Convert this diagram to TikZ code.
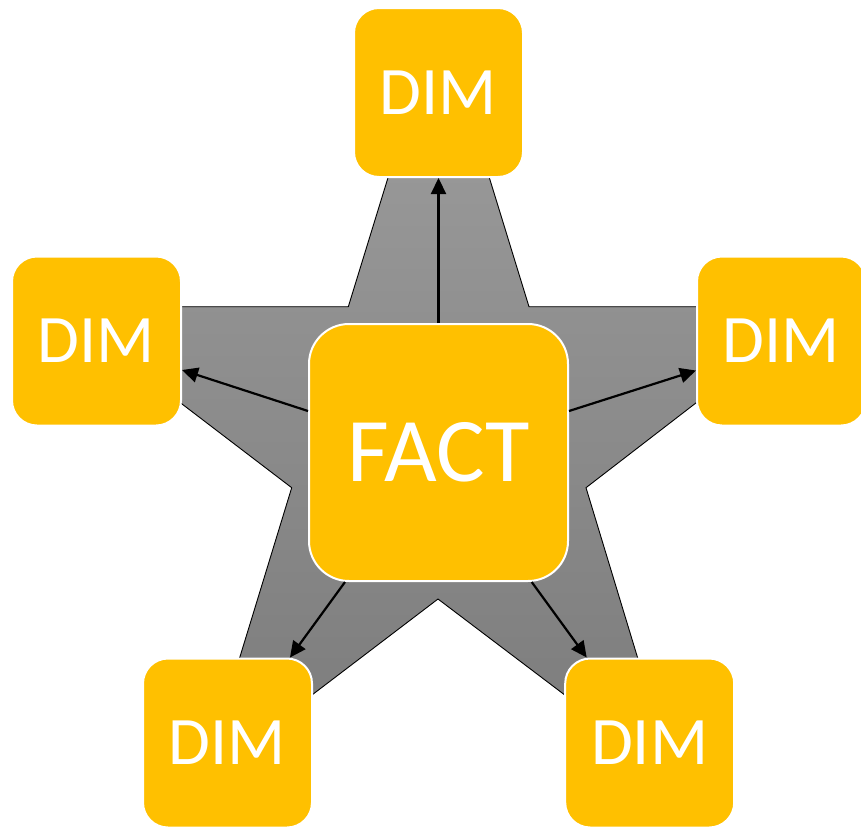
\documentclass[tikz,border=0pt]{standalone}
\usepackage{fontspec}
\setmainfont{Carlito}
\usetikzlibrary{arrows.meta,calc}
\definecolor{boxamber}{RGB}{255,192,0}
\definecolor{startop}{RGB}{152,152,152}
\definecolor{starbot}{RGB}{126,126,126}
\tikzset{
  tablebox/.style={draw=white, line width=2pt, fill=boxamber, rounded corners=25pt,
    minimum width=169pt, minimum height=169pt, inner sep=0pt,
    text=white, font=\fontsize{68}{68}\selectfont},
  factbox/.style={tablebox, rounded corners=40pt, minimum width=259pt,
    minimum height=257pt, font=\fontsize{91}{91}\selectfont},
  link/.style={line width=2.2pt, -{Triangle[length=16pt,width=15pt]}},
}
\begin{document}
\begin{tikzpicture}[x=1pt,y=-1pt]
  \useasboundingbox (0,0) rectangle (861,830);
  \clip (0,0) rectangle (861,830);
  % star behind the tables; spike tips end under the boxes
  \draw[black, line width=0.9pt, top color=startop, bottom color=starbot]
    (348.3,306.7) -- (396.5,150) -- (480.8,150) -- (529,306.7)
    -- (720,306.7) -- (720,384.4) -- (586,487.7)
    -- (647.4,690) -- (585,710.3) -- (438,599)
    -- (290,711.7) -- (229.8,690) -- (291.7,487.7)
    -- (160,387.2) -- (160,306.7) -- cycle;
  % tables
  \node[factbox] (fact) at (438.5,452.5) {FACT};
  \node[tablebox] (top) at (438.5,92.5) {DIM};
  \node[tablebox] (left) at (96.5,341) {DIM};
  \node[tablebox] (right) at (781.5,341) {DIM};
  \node[tablebox] (bl) at (227.5,743) {DIM};
  \node[tablebox] (br) at (649.7,743) {DIM};
  % relations
  \draw[link] (fact.north) -- (top.south);
  \draw[link] ($(fact.west)+(0,-41.5)$) -- ($(left.east)+(0,29)$);
  \draw[link] ($(fact.east)+(0,-41.5)$) -- ($(right.west)+(0,29.5)$);
  \draw[link] ($(fact.south)+(-93.5,0)$) -- ($(bl.north)+(62.5,0)$);
  \draw[link] ($(fact.south)+(93.2,0)$) -- ($(br.north)+(-63,0)$);
\end{tikzpicture}
\end{document}
